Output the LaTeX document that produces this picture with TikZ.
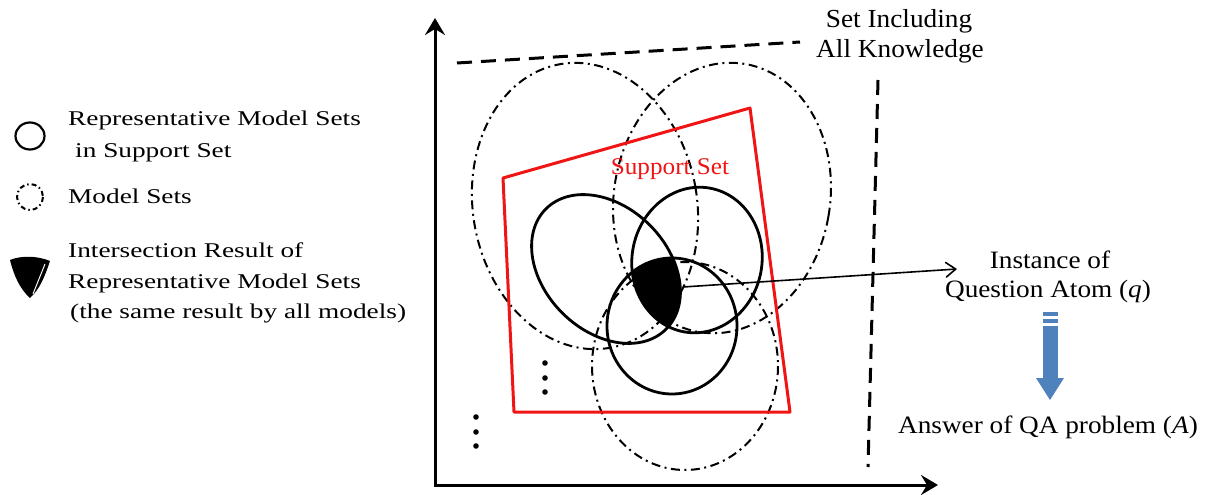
\documentclass[tikz,border=0pt]{standalone}
\usepackage{fontspec}
\setmainfont{Liberation Serif}
\usetikzlibrary{arrows.meta}
\definecolor{qablue}{RGB}{79,129,189}
\definecolor{supred}{RGB}{240,20,20}
\newcommand\hsc[2]{\scalebox{#1}[1]{#2}}
\begin{document}
\begin{tikzpicture}[x=1pt,y=-1pt,
  axis/.style={line width=3pt, line join=miter},
  kset/.style={line width=3pt, dash pattern=on 15pt off 9pt},
  mset/.style={line width=2pt, dash pattern=on 9pt off 4.5pt on 2pt off 4.5pt},
  rset/.style={line width=2.8pt},
  lgd/.style={font=\fontsize{21}{24}\selectfont, anchor=base west, inner sep=0pt},
  rtxt/.style={font=\fontsize{25}{30}\selectfont, anchor=base, inner sep=0pt},
  dotm/.style={fill=black}
]
\useasboundingbox (0,0) rectangle (1210,495);

% axes
\coordinate (O) at (435,485);
\coordinate (ytip) at (435,18);
\coordinate (xtip) at (938,485);
\draw[axis, {Stealth[length=17pt,width=20pt,inset=6pt]}-{Stealth[length=17pt,width=20pt,inset=6pt]}] (ytip) -- (O) -- (xtip);

% set including all knowledge
\coordinate (k1) at (457,63);
\coordinate (k2) at (800,42);
\coordinate (k3) at (878,80);
\coordinate (k4) at (868,467);
\draw[kset] (k1) -- (k2);
\draw[kset] (k3) -- (k4);
\node[rtxt, font=\fontsize{26}{30}\selectfont] (ski1) at (899,28) {\hsc{1.05}{Set Including}};
\node[rtxt, font=\fontsize{26}{30}\selectfont] (ski2) at (900,58) {\hsc{1.05}{All Knowledge}};

% model sets (dash-dot)
\draw[mset] (585,206) ellipse [x radius=112, y radius=144, rotate=10];
\draw[mset] (722,198) ellipse [x radius=108, y radius=136, rotate=-10];
\draw[mset] (685,366) ellipse [x radius=93, y radius=104];

% support set
\draw[supred, line width=3pt, line join=round] (503,178) -- (750,108) -- (790,412) -- (514,412) -- cycle;
\node[font=\fontsize{24}{28}\selectfont, text=supred, anchor=base, inner sep=0pt] (sup) at (670,174) {\hsc{1.05}{Support Set}};

% intersection
\begin{scope}
  \clip (606,269) ellipse [x radius=85, y radius=62, rotate=-45];
  \clip (697,260) ellipse [x radius=65, y radius=73, rotate=-10];
  \fill (672,326) ellipse [x radius=65, y radius=68];
\end{scope}

% representative model sets
\draw[rset] (606,269) ellipse [x radius=85, y radius=62, rotate=-45];
\draw[rset] (697,260) ellipse [x radius=65, y radius=73, rotate=-10];
\draw[rset] (672,326) ellipse [x radius=65, y radius=68];

% dots
\foreach \yy in {363,378,392} \fill[dotm] (545,\yy) circle (2.8);
\foreach \yy in {417,432,446} \fill[dotm] (476,\yy) circle (2.8);

% question atom
\coordinate (src) at (683,287);
\coordinate (qtip) at (957,269);
\draw[line width=1.6pt, -{Straight Barb[length=10pt,width=15pt,line width=1.6pt]}] (src) -- (qtip);
\node[rtxt] (inst1) at (1050,268) {\hsc{1.09}{Instance of}};
\node[rtxt] (inst2) at (1048,297) {\hsc{1.09}{Question Atom (\textit{q})}};
\node[rtxt] (ans) at (1048,433) {\hsc{1.09}{Answer of QA problem (\textit{A})}};

% blue arrow
\fill[qablue] (1043,312) rectangle (1058,315.5);
\fill[qablue] (1043,318.5) rectangle (1058,322.5);
\fill[qablue] (1043,325.5) rectangle (1058,379);
\fill[qablue] (1036,378) -- (1064,378) -- (1050,400) -- cycle;

% legend
\draw[line width=2.2pt] (30,136) ellipse [x radius=14.5, y radius=13.5];
\draw[line width=2pt, dash pattern=on 5pt off 3pt on 1.5pt off 3pt] (30,197) ellipse [x radius=13, y radius=13];
\fill (10,260) .. controls (22,255) and (38,256) .. (50,261) .. controls (45,276) and (40,289) .. (30,298) .. controls (20,289) and (14,276) .. (10,260) -- cycle;
\draw[white, line width=1pt] (45,264) -- (33,294);

\node[lgd] (l1a) at (68,125) {\hsc{1.3}{Representative Model Sets}};
\node[lgd] (l1b) at (75,157) {\hsc{1.3}{in Support Set}};
\node[lgd] (l2) at (68,203) {\hsc{1.3}{Model Sets}};
\node[lgd] (l3a) at (68,257) {\hsc{1.3}{Intersection Result of}};
\node[lgd] (l3b) at (68,288) {\hsc{1.3}{Representative Model Sets}};
\node[lgd] (l3c) at (70,318) {\hsc{1.3}{(the same result by all models)}};
\end{tikzpicture}
\end{document}
